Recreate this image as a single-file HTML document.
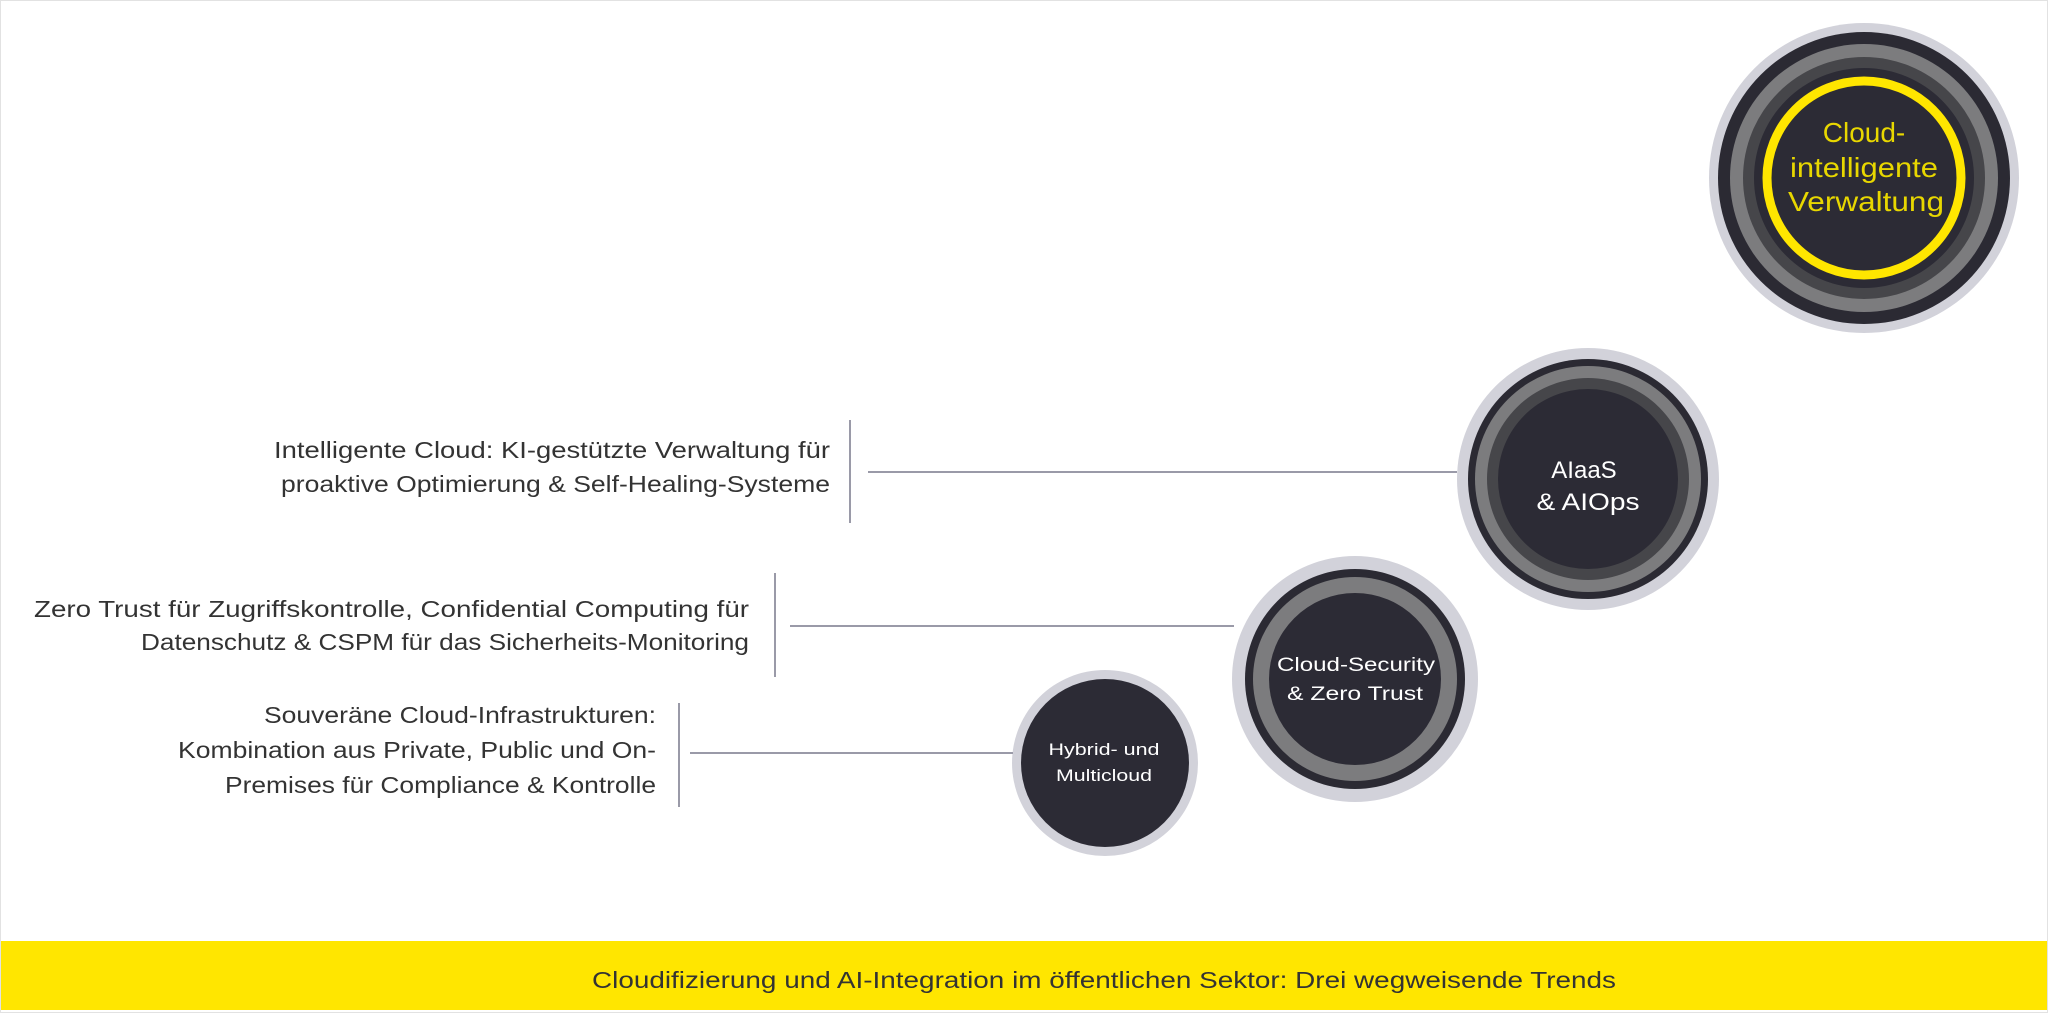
<!DOCTYPE html>
<html><head><meta charset="utf-8"><style>
html,body{margin:0;padding:0;background:#fff;}
svg{display:block;}
</style></head><body>
<svg width="2048" height="1013" viewBox="0 0 2048 1013" xmlns="http://www.w3.org/2000/svg" font-family="'Liberation Sans', sans-serif">
<rect x="0.5" y="0.5" width="2047" height="1012" fill="#fff" stroke="#e2e2e2"/>
<!-- Circle 1 -->
<circle cx="1864" cy="178" r="155" fill="#d2d2da"/>
<circle cx="1864" cy="178" r="146" fill="#2b2a33"/>
<circle cx="1864" cy="178" r="134" fill="#7c7c7e"/>
<circle cx="1864" cy="178" r="121" fill="#46464a"/>
<circle cx="1864" cy="178" r="110" fill="#2c2b35"/>
<circle cx="1864" cy="178" r="97" fill="none" stroke="#ffe600" stroke-width="9"/>
<g fill="#e8d700" font-size="28" text-anchor="middle">
<text x="1864" y="142">Cloud-</text>
<text x="1864" y="177" textLength="148" lengthAdjust="spacingAndGlyphs">intelligente</text>
<text x="1866" y="211" textLength="156" lengthAdjust="spacingAndGlyphs">Verwaltung</text>
</g>
<!-- Circle 2 -->
<circle cx="1588" cy="479" r="131" fill="#d2d2da"/>
<circle cx="1588" cy="479" r="120" fill="#2b2a33"/>
<circle cx="1588" cy="479" r="113" fill="#7c7c7e"/>
<circle cx="1588" cy="479" r="101" fill="#46464a"/>
<circle cx="1588" cy="479" r="90" fill="#2c2b35"/>
<g fill="#fff" font-size="24" text-anchor="middle">
<text x="1584" y="478">AIaaS</text>
<text x="1588" y="510" textLength="103" lengthAdjust="spacingAndGlyphs">&amp; AIOps</text>
</g>
<!-- Circle 3 -->
<circle cx="1355" cy="679" r="123" fill="#d2d2da"/>
<circle cx="1355" cy="679" r="110" fill="#2b2a33"/>
<circle cx="1355" cy="679" r="102" fill="#7c7c7e"/>
<circle cx="1355" cy="679" r="86" fill="#2c2b35"/>
<g fill="#fff" font-size="19" text-anchor="middle">
<text x="1356" y="671" textLength="158" lengthAdjust="spacingAndGlyphs">Cloud-Security</text>
<text x="1355" y="700" textLength="136" lengthAdjust="spacingAndGlyphs">&amp; Zero Trust</text>
</g>
<!-- Circle 4 -->
<circle cx="1105" cy="763" r="93" fill="#d2d2da"/>
<circle cx="1105" cy="763" r="84" fill="#2c2b35"/>
<g fill="#fff" font-size="17" text-anchor="middle">
<text x="1104" y="755" textLength="111" lengthAdjust="spacingAndGlyphs">Hybrid- und</text>
<text x="1104" y="781" textLength="96" lengthAdjust="spacingAndGlyphs">Multicloud</text>
</g>
<!-- connectors -->
<g stroke="#9a9aa8" stroke-width="2" fill="none">
<line x1="868" y1="472" x2="1457" y2="472"/>
<line x1="790" y1="626" x2="1234" y2="626"/>
<line x1="690" y1="753" x2="1013" y2="753"/>
<line x1="850" y1="420" x2="850" y2="523"/>
<line x1="775" y1="573" x2="775" y2="677"/>
<line x1="679" y1="703" x2="679" y2="807"/>
</g>
<!-- left texts -->
<g fill="#333" font-size="23" text-anchor="end">
<text x="830" y="458" textLength="556" lengthAdjust="spacingAndGlyphs">Intelligente Cloud: KI-gestützte Verwaltung für</text>
<text x="830" y="492" textLength="549" lengthAdjust="spacingAndGlyphs">proaktive Optimierung &amp; Self-Healing-Systeme</text>
<text x="749" y="617" textLength="715" lengthAdjust="spacingAndGlyphs">Zero Trust für Zugriffskontrolle, Confidential Computing für</text>
<text x="749" y="650" textLength="608" lengthAdjust="spacingAndGlyphs">Datenschutz &amp; CSPM für das Sicherheits-Monitoring</text>
<text x="656" y="723" textLength="392" lengthAdjust="spacingAndGlyphs">Souveräne Cloud-Infrastrukturen:</text>
<text x="656" y="758" textLength="478" lengthAdjust="spacingAndGlyphs">Kombination aus Private, Public und On-</text>
<text x="656" y="793" textLength="431" lengthAdjust="spacingAndGlyphs">Premises für Compliance &amp; Kontrolle</text>
</g>
<!-- banner -->
<rect x="1" y="941" width="2046" height="69" fill="#ffe600"/>
<text x="1104" y="988" fill="#333" font-size="23" text-anchor="middle" textLength="1024" lengthAdjust="spacingAndGlyphs">Cloudifizierung und AI-Integration im öffentlichen Sektor: Drei wegweisende Trends</text>
</svg>
</body></html>
